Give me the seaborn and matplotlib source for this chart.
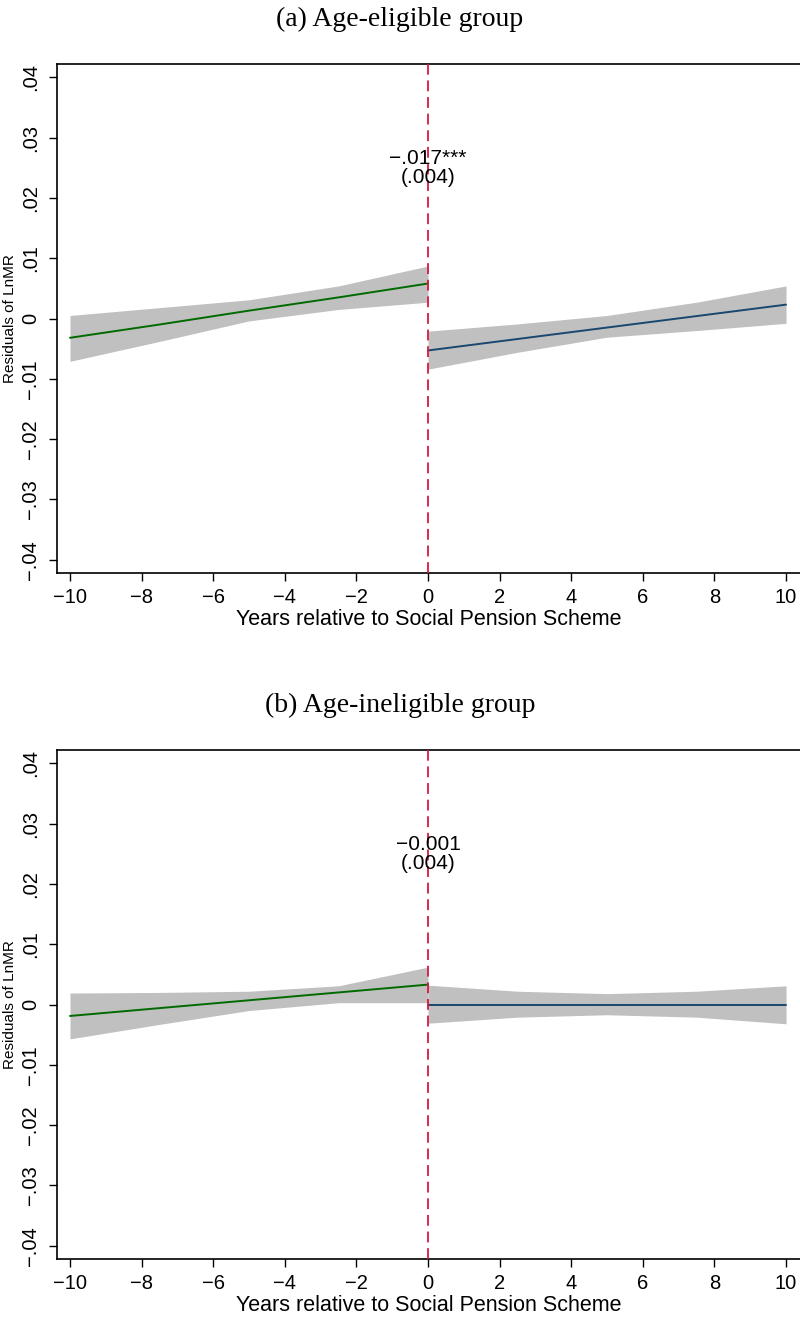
import matplotlib
matplotlib.use("Agg")
import matplotlib.pyplot as plt
import seaborn as sns
import pandas as pd

# ---------------- data ----------------
years_pre = [-10, -7.5, -5, -2.5, 0]
years_post = [0, 2.5, 5, 7.5, 10]

# (a) Age-eligible group
a_pre_fit = [-0.0032, -0.0010, 0.0013, 0.0035, 0.0058]
a_pre_lo = [-0.0071, -0.0038, -0.0004, 0.0015, 0.0027]
a_pre_hi = [0.0005, 0.0018, 0.0031, 0.0054, 0.0087]
a_post_fit = [-0.0053, -0.0034, -0.0015, 0.0004, 0.0023]
a_post_lo = [-0.0084, -0.0056, -0.0031, -0.0020, -0.0008]
a_post_hi = [-0.0021, -0.0009, 0.0005, 0.0027, 0.0054]

# (b) Age-ineligible group
b_pre_fit = [-0.0019, -0.0006, 0.0007, 0.0020, 0.0033]
b_pre_lo = [-0.0057, -0.0033, -0.0010, 0.0003, 0.0003]
b_pre_hi = [0.0019, 0.0020, 0.0022, 0.0031, 0.0062]
b_post_fit = [0.0, 0.0, 0.0, 0.0, 0.0]
b_post_lo = [-0.0031, -0.0021, -0.0017, -0.0021, -0.0032]
b_post_hi = [0.0032, 0.0022, 0.0018, 0.0022, 0.0031]

titles = ["(a) Age-eligible group", "(b) Age-ineligible group"]
estimates = ["\u2212.017***\n(.004)", "\u22120.001\n(.004)"]

x_ticks = [-10, -8, -6, -4, -2, 0, 2, 4, 6, 8, 10]
x_tick_labels = ["\u221210", "\u22128", "\u22126", "\u22124", "\u22122", "0", "2", "4", "6", "8", "10"]
y_ticks = [-0.04, -0.03, -0.02, -0.01, 0.0, 0.01, 0.02, 0.03, 0.04]
y_tick_labels = ["\u2212.04", "\u2212.03", "\u2212.02", "\u2212.01", "0", ".01", ".02", ".03", ".04"]
x_label = "Years relative to Social Pension Scheme"
y_label = "Residuals of LnMR"

# ---------------- style ----------------
sns.set_style("ticks")
plt.rcParams["font.family"] = ["Liberation Sans", "DejaVu Sans"]
plt.rcParams["text.color"] = "black"
plt.rcParams["axes.labelcolor"] = "black"
plt.rcParams["xtick.color"] = "black"
plt.rcParams["ytick.color"] = "black"

GREEN = "#006a00"
BLUE = "#1a476f"
BAND = "#c0c0c0"
RED = "#d7193f"

W, H = 800, 1318
fig = plt.figure(figsize=(W / 100, H / 100), dpi=100)

panels = [
    (a_pre_fit, a_pre_lo, a_pre_hi, a_post_fit, a_post_lo, a_post_hi),
    (b_pre_fit, b_pre_lo, b_pre_hi, b_post_fit, b_post_lo, b_post_hi),
]
tops = [64, 750]
bottoms = [573, 1259]
title_y = [19, 705]

for i, (pf, plo, phi, qf, qlo, qhi) in enumerate(panels):
    left = 57 / W
    ax = fig.add_axes([left, 1 - bottoms[i] / H, 1 - left, (bottoms[i] - tops[i]) / H])

    ax.fill_between(years_pre, plo, phi, color=BAND, lw=0, zorder=1)
    ax.fill_between(years_post, qlo, qhi, color=BAND, lw=0, zorder=1)

    df_pre = pd.DataFrame({"x": years_pre, "y": pf})
    df_post = pd.DataFrame({"x": years_post, "y": qf})
    sns.lineplot(data=df_pre, x="x", y="y", ax=ax, color=GREEN, lw=1.4, zorder=3)
    sns.lineplot(data=df_post, x="x", y="y", ax=ax, color=BLUE, lw=1.4, zorder=3)

    ax.axvline(0, color=RED, lw=1.3, ls=(0, (6, 3.2)), zorder=4)

    ax.text(0, 0.0250, estimates[i], ha="center", va="center", fontsize=15,
            linespacing=1.0, zorder=5)

    ax.set_xlim(-10.363, 10.39)
    ax.set_ylim(-0.0422, 0.0422)
    ax.set_xticks(x_ticks)
    ax.set_xticklabels(x_tick_labels)
    ax.set_yticks(y_ticks)
    ax.set_yticklabels(y_tick_labels, rotation=90, va="center")
    ax.tick_params(axis="both", labelsize=14.5, length=6, width=1.0, color="black")
    ax.tick_params(axis="x", pad=5)
    ax.tick_params(axis="y", pad=6)

    ax.set_xlabel(x_label, fontsize=15.5, labelpad=1)
    ax.set_ylabel(y_label, fontsize=11, labelpad=3)

    for s in ["left", "bottom", "top"]:
        ax.spines[s].set_color("black")
        ax.spines[s].set_linewidth(1.2)
    ax.spines["right"].set_visible(False)

    fig.text(0.5, 1 - title_y[i] / H, titles[i], ha="center", va="center",
             fontsize=20, family=["Liberation Serif", "DejaVu Serif"])

fig.savefig("out.png", dpi=100)
